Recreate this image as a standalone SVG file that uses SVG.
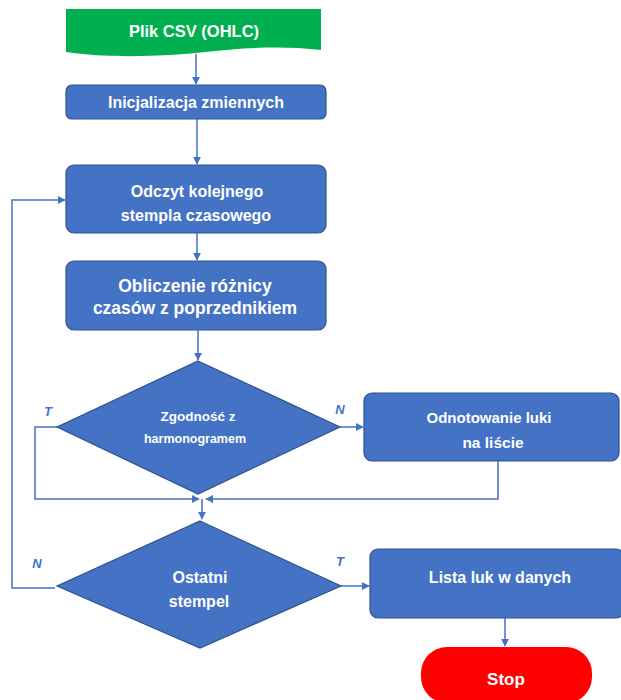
<svg xmlns="http://www.w3.org/2000/svg" width="621" height="700" viewBox="0 0 621 700">
<defs>
<marker id="ah" viewBox="0 0 10 10" refX="9" refY="5" markerWidth="8" markerHeight="8" markerUnits="userSpaceOnUse" orient="auto">
<path d="M0,0 L10,5 L0,10 Z" fill="#4472C4"/>
</marker>
</defs>
<style>
.box{fill:#4472C4;stroke:#2F528F;stroke-width:1.2}
.t{font-family:"Liberation Sans",Arial,sans-serif;font-weight:bold;fill:#fff;text-anchor:middle}
.c{fill:none;stroke:#4472C4;stroke-width:1.5}
.lbl{font-family:"Liberation Sans",Arial,sans-serif;font-weight:bold;font-style:italic;fill:#4472C4;font-size:13px}
</style>
<rect width="621" height="700" fill="#fff"/>
<g id="connectors">
<path class="c" d="M196,54 V84" marker-end="url(#ah)"/>
<path class="c" d="M197,119 V164" marker-end="url(#ah)"/>
<path class="c" d="M197,233 V260" marker-end="url(#ah)"/>
<path class="c" d="M198,330 V360" marker-end="url(#ah)"/>
<path class="c" d="M340,427 H363" marker-end="url(#ah)"/>
<path class="c" d="M57,427 H35 V499 H199" marker-end="url(#ah)"/>
<path class="c" d="M498,461 V499 H206" marker-end="url(#ah)"/>
<path class="c" d="M202,499 V519" marker-end="url(#ah)"/>
<path class="c" d="M55,588 H12 V200 H65" marker-end="url(#ah)"/>
<path class="c" d="M341,586 H369" marker-end="url(#ah)"/>
<path class="c" d="M505,618 V646" marker-end="url(#ah)"/>
<text class="lbl" x="48" y="416" text-anchor="middle">T</text>
<text class="lbl" x="340" y="414" text-anchor="middle">N</text>
<text class="lbl" x="37" y="568" text-anchor="middle">N</text>
<text class="lbl" x="340" y="566" text-anchor="middle">T</text>
</g>
<g id="start">
<path d="M66,9 H321 V50 C285,46 250,47 205,52 C160,57 105,58 66,52 Z" fill="#00B050"/>
<text class="t" x="194" y="37" font-size="16.5">Plik CSV (OHLC)</text>
</g>
<g id="init">
<rect class="box" x="66" y="85" width="260" height="34" rx="6"/>
<text class="t" x="196" y="108" font-size="16">Inicjalizacja zmiennych</text>
</g>
<g id="read">
<rect class="box" x="66" y="165" width="260" height="68" rx="8"/>
<text class="t" x="197" y="197" font-size="16">Odczyt kolejnego</text>
<text class="t" x="196" y="221" font-size="16">stempla czasowego</text>
</g>
<g id="calc">
<rect class="box" x="66" y="261" width="260" height="69" rx="8"/>
<text class="t" x="195" y="292" font-size="17.5">Obliczenie różnicy</text>
<text class="t" x="195" y="314" font-size="17.5">czasów z poprzednikiem</text>
</g>
<g id="check">
<path class="box" d="M198,361 L340,427 L198,494 L57,427 Z"/>
<text class="t" x="198" y="421" font-size="13.5">Zgodność z</text>
<text class="t" x="195" y="443" font-size="12.5">harmonogramem</text>
</g>
<g id="gap">
<rect class="box" x="364" y="393" width="255" height="68" rx="8"/>
<text class="t" x="489" y="423" font-size="15">Odnotowanie luki</text>
<text class="t" x="493" y="448" font-size="15.5">na liście</text>
</g>
<g id="last">
<path class="box" d="M200,521 L341,586 L200,648 L57,586 Z"/>
<text class="t" x="200" y="583" font-size="16">Ostatni</text>
<text class="t" x="199" y="607" font-size="16">stempel</text>
</g>
<g id="list">
<rect class="box" x="370" y="549" width="254" height="69" rx="8"/>
<text class="t" x="500" y="583" font-size="16">Lista luk w danych</text>
</g>
<g id="stop">
<rect x="421" y="647" width="171" height="56" rx="26" fill="#FF0000"/>
<text class="t" x="506" y="685" font-size="17">Stop</text>
</g>
</svg>
